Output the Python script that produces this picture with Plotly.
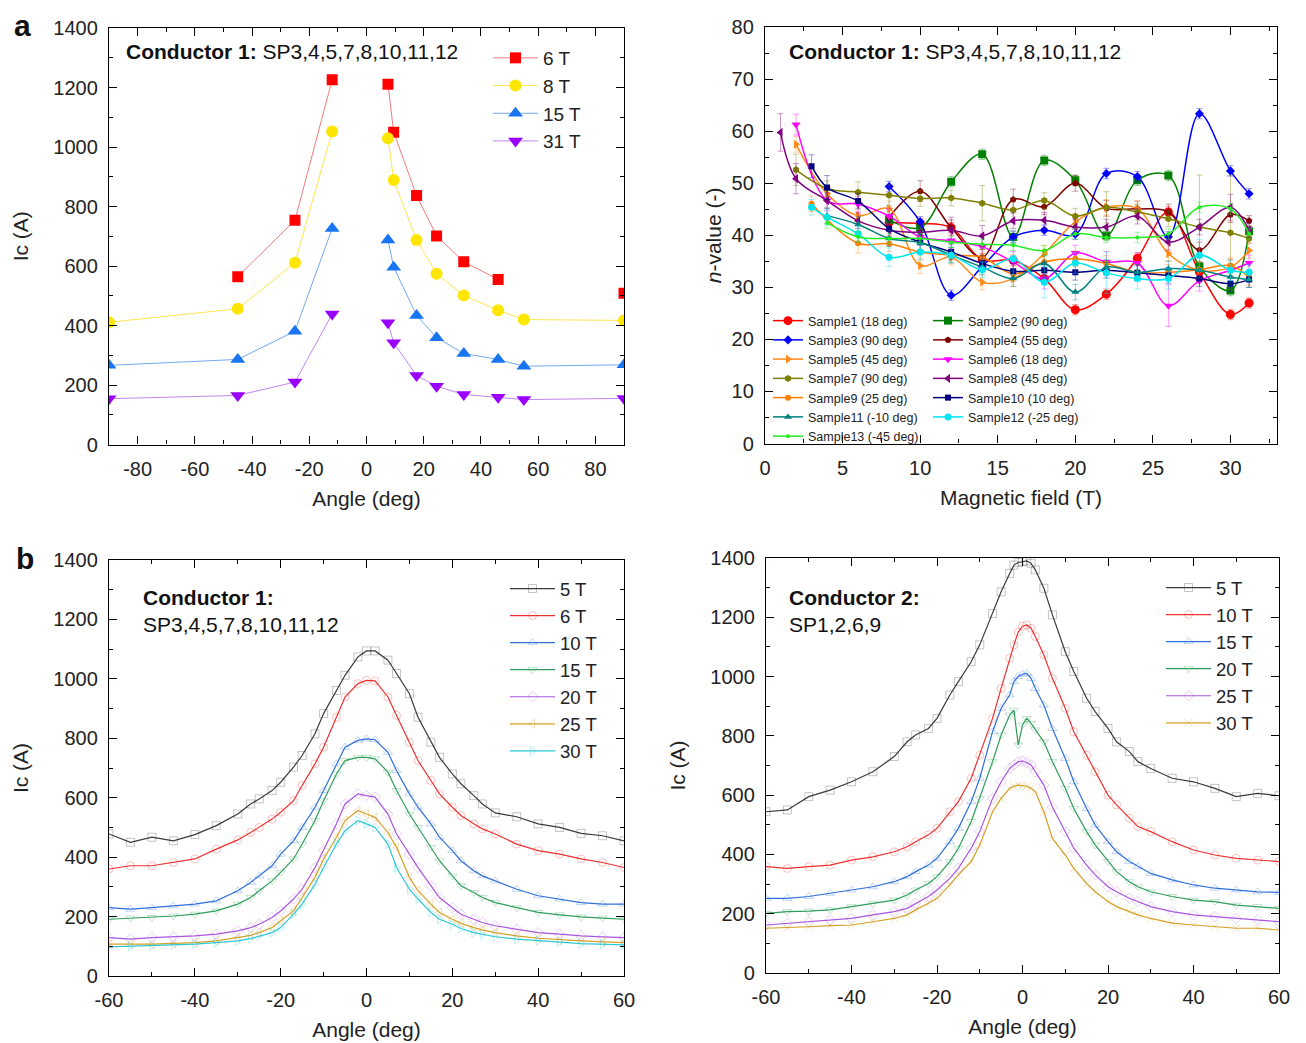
import plotly.graph_objects as go

W, H = 1306, 1043
FONT = 'Liberation Sans, Arial, sans-serif'

# ---------------- panel a, left: Ic vs angle at fixed field ----------------
ANGLE_A = [-90, -45, -25, -12, 0, 7.5, 9.5, 17.5, 24.5, 34, 46, 55, 90]
IC_6T = [None, 564, 754, 1226, None, 1211, 1050, 837, 701, 614, 555, None, 508]
IC_8T = [411, 456, 611, 1052, None, 1029, 889, 687, 574, 501, 451, 420, 417]
IC_15T = [266, 286, 381, 726, None, 687, 596, 434, 359, 306, 286, 263, 268]
IC_31T = [154, 165, 210, 439, None, 409, 342, 232, 196, 168, 159, 151, 155]
A_NAMES = ['6 T', '8 T', '15 T', '31 T']

# ---------------- panel a, right: n-value vs field ----------------
F1 = [8, 10, 12, 14, 16, 18, 20, 22, 24, 26, 28, 30, 31.2]
N1 = [42.5, 42.3, 41.5, 35.3, 35.2, 31.7, 25.7, 28.7, 35.6, 44.5, 33.0, 24.8, 27.0]
E1 = [1.2, 1.0, 1.0, 1.2, 1.0, 1.0, 1.0, 1.0, 1.0, 1.0, 1.2, 1.0, 1.0]
F2 = [8, 10, 12, 14, 16, 18, 20, 22, 24, 26, 28, 30, 31.2]
N2 = [43.0, 41.5, 50.3, 55.6, 39.7, 54.4, 50.6, 40.0, 50.6, 51.5, 34.0, 29.4, 40.8]
E2 = [1.0, 1.2, 1.0, 1.0, 1.2, 1.0, 1.0, 1.0, 1.0, 1.0, 1.0, 1.0, 1.0]
F3 = [8, 10, 12, 14, 16, 18, 20, 22, 24, 26, 28, 30, 31.2]
N3 = [49.4, 42.6, 28.5, 34.0, 39.7, 41.0, 40.2, 51.9, 51.3, 39.7, 63.4, 52.4, 48.0]
E3 = [1.0, 1.0, 1.0, 1.0, 1.0, 1.0, 1.0, 1.0, 1.0, 1.0, 1.0, 1.0, 1.0]
F4 = [8, 10, 12, 14, 16, 18, 20, 22, 24, 26, 28, 30, 31.2]
N4 = [43.5, 48.5, 41.5, 35.8, 46.9, 45.5, 50.0, 45.2, 45.1, 44.5, 37.2, 44.0, 42.8]
E4 = [1.5, 2.0, 1.5, 1.5, 2.0, 1.5, 1.5, 1.5, 1.5, 1.5, 1.5, 1.5, 1.0]
F5 = [2, 4, 6, 8, 10, 12, 14, 16, 18, 20, 22, 24, 26, 28, 30, 31.2]
N5 = [57.5, 48.0, 43.8, 45.1, 34.2, 35.8, 31.0, 31.7, 36.5, 42.6, 45.4, 45.1, 36.5, 33.3, 33.9, 37.1]
E5 = [1.5, 1.5, 1.5, 1.5, 1.5, 1.5, 1.5, 1.5, 1.5, 1.5, 1.5, 1.5, 1.5, 1.5, 1.5, 1.5]
F6 = [2, 4, 6, 8, 10, 12, 14, 16, 18, 20, 22, 24, 26, 28, 30, 31.2]
N6 = [61.3, 46.7, 46.0, 43.7, 39.7, 39.0, 37.8, 34.9, 31.7, 36.6, 34.9, 34.7, 26.5, 31.3, 33.3, 34.7]
E6 = [2.0, 2.0, 1.5, 1.5, 1.5, 1.5, 2.5, 2.0, 2.0, 1.5, 2.0, 2.0, 4.0, 2.0, 2.0, 1.5]
F7 = [2, 4, 6, 8, 10, 12, 14, 16, 18, 20, 22, 24, 26, 28, 30, 31.2]
N7 = [52.6, 49.0, 48.3, 47.7, 47.1, 47.2, 46.2, 44.9, 46.7, 43.7, 45.4, 44.5, 43.2, 41.6, 40.5, 39.4]
E7 = [3.0, 1.5, 2.0, 2.0, 1.5, 1.5, 3.4, 2.3, 1.5, 1.5, 3.0, 1.5, 1.5, 10.0, 11.0, 1.0]
F8 = [1, 2, 4, 6, 8, 10, 12, 14, 16, 18, 20, 22, 24, 26, 28, 30, 31.2]
N8 = [59.8, 50.9, 46.7, 42.8, 41.0, 40.6, 41.0, 39.9, 42.8, 42.9, 41.6, 41.6, 43.7, 38.7, 41.6, 45.4, 41.0]
E8 = [3.6, 2.9, 1.5, 1.5, 1.5, 1.5, 2.5, 2.0, 1.5, 1.5, 1.5, 1.5, 1.5, 1.5, 1.5, 2.5, 1.5]
F9 = [3, 6, 8, 10, 12, 14, 16, 18, 20, 22, 24, 26, 28, 30, 31.2]
N9 = [46.1, 38.5, 38.4, 36.8, 36.2, 35.8, 32.6, 34.9, 35.5, 34.6, 32.9, 32.9, 33.4, 34.2, 31.9]
E9 = [1.5, 1.9, 1.5, 1.5, 1.5, 1.5, 1.5, 1.5, 1.5, 1.5, 1.5, 1.5, 1.5, 1.5, 1.5]
F10 = [3, 4, 6, 8, 10, 12, 14, 16, 18, 20, 22, 24, 26, 28, 30, 31.2]
N10 = [53.3, 49.2, 46.6, 41.3, 38.7, 36.8, 34.6, 33.1, 33.3, 32.9, 33.3, 32.8, 32.3, 31.7, 30.7, 31.5]
E10 = [2.2, 2.3, 1.5, 1.5, 1.5, 1.5, 1.5, 1.5, 1.5, 1.5, 1.5, 1.5, 1.5, 1.5, 1.5, 1.5]
F11 = [4, 6, 8, 10, 12, 14, 16, 18, 20, 22, 24, 26, 28, 30, 31.2]
N11 = [43.8, 42.1, 39.4, 38.6, 36.2, 33.9, 31.7, 34.6, 29.1, 33.9, 32.9, 33.6, 33.3, 32.0, 31.5]
E11 = [1.5, 1.5, 1.5, 1.5, 1.5, 1.5, 1.5, 1.5, 1.5, 1.5, 1.5, 1.5, 1.5, 1.5, 1.5]
F12 = [3, 4, 6, 8, 10, 12, 14, 16, 18, 20, 22, 24, 26, 28, 30, 31.2]
N12 = [45.4, 43.5, 40.3, 35.8, 36.8, 36.2, 33.4, 35.5, 31.0, 34.7, 32.8, 31.7, 31.7, 36.2, 33.3, 32.9]
E12 = [1.5, 1.5, 1.5, 1.8, 1.5, 1.5, 1.5, 3.0, 3.0, 2.0, 4.0, 2.0, 2.0, 3.0, 2.0, 1.5]
F13 = [4, 6, 8, 10, 12, 14, 16, 18, 20, 22, 24, 26, 28, 30, 31.2]
N13 = [42.4, 39.7, 39.4, 39.4, 38.7, 38.3, 38.1, 37.1, 40.3, 39.6, 39.6, 40.3, 45.4, 45.1, 40.3]
E13 = [1.0, 1.0, 1.0, 1.0, 1.0, 1.0, 1.0, 1.0, 1.0, 1.0, 1.0, 1.0, 1.0, 1.0, 1.0]
SAMPLE_NAMES = ['Sample1 (18 deg)', 'Sample2 (90 deg)', 'Sample3 (90 deg)', 'Sample4 (55 deg)',
                'Sample5 (45 deg)', 'Sample6 (18 deg)', 'Sample7 (90 deg)', 'Sample8 (45 deg)',
                'Sample9 (25 deg)', 'Sample10 (10 deg)', 'Sample11 (-10 deg)', 'Sample12 (-25 deg)',
                'Sample13 (-45 deg)']

# ---------------- panel b, left: Conductor 1 angular scans ----------------
ANGLE_B1 = [-60, -55, -50, -45, -40, -35, -30, -27, -25, -22, -20, -17, -15, -12, -10, -7, -5, -2, 0,
            2, 5, 7, 10, 12, 15, 17, 20, 22, 25, 27, 30, 35, 40, 45, 50, 55, 60]
C1_5T = [478, 450, 467, 455, 476, 506, 545, 579, 596, 624, 652, 703, 742, 815, 883, 961, 1012, 1074, 1094,
         1094, 1063, 1018, 950, 871, 787, 736, 680, 647, 607, 579, 549, 536, 512, 500, 480, 472, 455]
C1_6T = [360, 371, 371, 382, 394, 427, 458, 483, 500, 528, 551, 590, 641, 714, 770, 871, 939, 984, 995,
         993, 939, 877, 787, 725, 658, 613, 568, 540, 512, 495, 478, 444, 422, 410, 394, 382, 365]
C1_10T = [230, 225, 230, 236, 242, 253, 287, 315, 337, 371, 410, 455, 500, 568, 624, 714, 770, 793, 798,
          795, 753, 691, 613, 568, 512, 467, 422, 388, 354, 337, 320, 292, 270, 259, 247, 242, 242]
C1_15T = [191, 195, 197, 202, 208, 219, 242, 264, 287, 320, 349, 394, 444, 523, 590, 680, 725, 736, 736,
          731, 686, 624, 545, 500, 433, 388, 337, 304, 281, 264, 247, 230, 214, 206, 199, 195, 191]
C1_20T = [129, 124, 129, 132, 135, 141, 152, 163, 174, 197, 219, 259, 292, 365, 422, 512, 579, 613, 607,
          602, 545, 478, 410, 365, 304, 264, 230, 208, 191, 180, 169, 157, 146, 141, 135, 132, 129]
C1_25T = [107, 107, 107, 110, 112, 118, 129, 137, 146, 163, 186, 219, 264, 332, 394, 467, 523, 557, 545,
          534, 483, 433, 332, 287, 242, 214, 191, 177, 163, 155, 146, 135, 127, 122, 118, 115, 112]
C1_30T = [98, 100, 101, 104, 107, 112, 118, 126, 135, 146, 163, 208, 242, 309, 365, 444, 489, 523, 512,
          500, 444, 365, 292, 259, 214, 191, 174, 160, 146, 140, 132, 124, 118, 114, 109, 107, 105]
B1_NAMES = ['5 T', '6 T', '10 T', '15 T', '20 T', '25 T', '30 T']

# ---------------- panel b, right: Conductor 2 angular scans ----------------
ANGLE_B2 = [-60, -55, -50, -45, -40, -35, -30, -27, -25, -22, -20, -17, -15, -12, -10, -7, -5, -3, -2, -1, 0,
            1, 2, 3, 5, 7, 10, 12, 15, 17, 20, 22, 25, 27, 30, 35, 40, 45, 50, 55, 60]
C2_5T = [544, 550, 595, 617, 645, 679, 730, 780, 803, 825, 859, 938, 983, 1050, 1107, 1213, 1286, 1348, 1376,
         1385, 1388, 1390, 1382, 1360, 1298, 1208, 1084, 1017, 927, 882, 825, 780, 747, 713, 690, 657, 645,
         623, 595, 606, 598]
C2_10T = [359, 353, 359, 364, 381, 392, 409, 426, 443, 466, 488, 544, 578, 657, 735, 859, 960, 1062, 1107,
          1150, 1170, 1174, 1163, 1135, 1073, 994, 893, 814, 735, 679, 600, 567, 522, 494, 477, 443, 415,
          398, 387, 381, 376]
C2_15T = [252, 252, 258, 269, 280, 291, 308, 325, 342, 364, 387, 443, 488, 578, 657, 814, 893, 938, 983,
          1000, 1008, 1011, 994, 960, 904, 825, 724, 645, 555, 499, 443, 409, 376, 359, 336, 314, 297,
          286, 280, 274, 272]
C2_20T = [201, 207, 209, 213, 224, 235, 246, 263, 280, 302, 325, 376, 421, 511, 589, 713, 803, 870, 887,
          769, 837, 859, 842, 820, 780, 713, 623, 555, 477, 432, 376, 342, 308, 291, 274, 258, 246,
          241, 229, 224, 218]
C2_25T = [162, 168, 173, 179, 184, 196, 207, 218, 235, 258, 280, 319, 353, 421, 477, 589, 645, 690, 702,
          713, 715, 710, 702, 679, 634, 560, 477, 421, 364, 331, 291, 274, 252, 241, 224, 207, 196,
          190, 184, 179, 173]
C2_30T = [151, 153, 156, 160, 162, 173, 184, 196, 213, 235, 252, 297, 331, 376, 432, 544, 589, 623, 630,
          634, 632, 630, 623, 612, 544, 454, 398, 353, 302, 274, 241, 224, 207, 196, 184, 168, 162,
          156, 151, 151, 145]
B2_NAMES = ['5 T', '10 T', '15 T', '20 T', '25 T', '30 T']

TICKS_ANGLE_A = [-80, -60, -40, -20, 0, 20, 40, 60, 80]
TICKS_ANGLE_B = [-60, -40, -20, 0, 20, 40, 60]


def xdom(l, r):
    return [l / W, r / W]


def ydom(t, b):
    return [1 - b / H, 1 - t / H]


def minor_ticks(**kw):
    m = dict(ticks='inside', ticklen=4, tickwidth=1.3, tickcolor='black', showgrid=False)
    m.update(kw)
    return m


def axis_style(**kw):
    st = dict(showline=True, linecolor='black', linewidth=1.3, mirror='allticks',
              ticks='inside', ticklen=8, tickwidth=1.3, tickcolor='black',
              showgrid=False, zeroline=False, ticklabelstandoff=6, automargin=False,
              tickfont=dict(size=20, color='#222', family=FONT))
    st.update(kw)
    return st


fig = go.Figure()

# panel a left
a_cols = ['#FF0000', '#FFE600', '#1874F0', '#9900FF']
a_lines = ['rgba(240,90,90,0.8)', 'rgba(255,225,60,0.9)', 'rgba(100,160,240,0.9)', 'rgba(190,120,240,0.9)']
a_syms = ['square', 'circle', 'triangle-up', 'triangle-down']
a_sizes = [11, 12, 13, 13]
for name, ys, c, lc, s, sz in zip(A_NAMES, [IC_6T, IC_8T, IC_15T, IC_31T], a_cols, a_lines, a_syms, a_sizes):
    fig.add_trace(go.Scatter(x=ANGLE_A, y=ys, name=name, mode='lines+markers',
                             line=dict(color=lc, width=1), marker=dict(color=c, symbol=s, size=sz),
                             xaxis='x', yaxis='y', legend='legend'))

# panel a right
s_fields = [F1, F2, F3, F4, F5, F6, F7, F8, F9, F10, F11, F12, F13]
s_vals = [N1, N2, N3, N4, N5, N6, N7, N8, N9, N10, N11, N12, N13]
s_errs = [E1, E2, E3, E4, E5, E6, E7, E8, E9, E10, E11, E12, E13]
s_cols = ['#FF0000', '#008000', '#0000FF', '#800000', '#FF8C1A', '#FF00FF', '#808000', '#800080',
          '#FF7F00', '#000080', '#008080', '#00E5F0', '#22EE22']
s_syms = ['circle', 'square', 'diamond', 'pentagon', 'triangle-right', 'triangle-down', 'hexagon',
          'triangle-left', 'circle', 'square', 'triangle-up', 'circle', 'circle']
s_sizes = [9, 8, 7, 7, 8, 8, 7, 8, 6, 6, 7, 7, 4]


def rgba(hexc, a):
    h = hexc.lstrip('#')
    return 'rgba(%d,%d,%d,%.2f)' % (int(h[0:2], 16), int(h[2:4], 16), int(h[4:6], 16), a)


for i in range(13):
    leg = 'legend2' if i % 2 == 0 else 'legend3'
    fig.add_trace(go.Scatter(x=s_fields[i], y=s_vals[i], name=SAMPLE_NAMES[i], mode='lines+markers',
                             line=dict(color=s_cols[i], width=1.5, shape='spline', smoothing=1.0),
                             marker=dict(color=s_cols[i], symbol=s_syms[i], size=s_sizes[i]),
                             error_y=dict(type='data', array=s_errs[i], color=rgba(s_cols[i], 0.4),
                                          thickness=1, width=3),
                             xaxis='x2', yaxis='y2', legend=leg))

# panel b left
b1_cols = ['#3A3A3A', '#EE3030', '#2F6FDC', '#2E9E5B', '#A955E0', '#D6A025', '#2CC8D6']
b1_syms = ['square-open', 'circle-open', 'triangle-up-open', 'triangle-down-open', 'diamond-open',
           'triangle-left-open', 'triangle-right-open']
for name, ys, c, s in zip(B1_NAMES, [C1_5T, C1_6T, C1_10T, C1_15T, C1_20T, C1_25T, C1_30T], b1_cols, b1_syms):
    fig.add_trace(go.Scatter(x=ANGLE_B1, y=ys, name=name, mode='lines+markers',
                             line=dict(color=c, width=1.2),
                             marker=dict(color=c, symbol=s, size=8, opacity=0.3, line=dict(width=1, color=c)),
                             xaxis='x3', yaxis='y3', legend='legend4'))

# panel b right
b2_cols = ['#3A3A3A', '#EE3030', '#2F6FDC', '#2E9E5B', '#A955E0', '#D6A025']
b2_syms = ['square-open', 'circle-open', 'triangle-up-open', 'triangle-down-open', 'diamond-open',
           'x-thin-open']
for name, ys, c, s in zip(B2_NAMES, [C2_5T, C2_10T, C2_15T, C2_20T, C2_25T, C2_30T], b2_cols, b2_syms):
    fig.add_trace(go.Scatter(x=ANGLE_B2, y=ys, name=name, mode='lines+markers',
                             line=dict(color=c, width=1.2),
                             marker=dict(color=c, symbol=s, size=8, opacity=0.3, line=dict(width=1, color=c)),
                             xaxis='x4', yaxis='y4', legend='legend5'))

ttl = dict(size=21, color='#222', family=FONT)
angle_ticks_a = dict(tickmode='array', tickvals=TICKS_ANGLE_A, ticktext=[str(v) for v in TICKS_ANGLE_A])
angle_ticks_b = dict(tickmode='array', tickvals=TICKS_ANGLE_B, ticktext=[str(v) for v in TICKS_ANGLE_B])

leg_common = dict(bgcolor='rgba(0,0,0,0)', borderwidth=0, xanchor='left', yanchor='top',
                  tracegroupgap=0)

fig.update_layout(
    width=W, height=H, autosize=False,
    margin=dict(l=0, r=0, t=0, b=0),
    paper_bgcolor='white', plot_bgcolor='white',
    font=dict(family=FONT, color='#222'),
    xaxis=axis_style(domain=xdom(109, 624), anchor='y', range=[-90, 90],
                     minor=minor_ticks(tickmode='linear', tick0=0, dtick=10),
                     title=dict(text='Angle (deg)', font=ttl, standoff=12), **angle_ticks_a),
    yaxis=axis_style(domain=ydom(28, 444.5), anchor='x', range=[0, 1400], dtick=200,
                     minor=minor_ticks(dtick=100),
                     title=dict(text='Ic (A)', font=ttl, standoff=18)),
    xaxis2=axis_style(domain=xdom(765, 1277), anchor='y2', range=[0, 33], dtick=5,
                      minor=minor_ticks(dtick=2.5),
                      title=dict(text='Magnetic field (T)', font=ttl, standoff=12)),
    yaxis2=axis_style(domain=ydom(27.3, 443.5), anchor='x2', range=[0, 80], dtick=10,
                      minor=minor_ticks(dtick=5),
                      title=dict(text='<i>n</i>-value (-)', font=ttl, standoff=4)),
    xaxis3=axis_style(domain=xdom(109, 624), anchor='y3', range=[-60, 60],
                      minor=minor_ticks(tickmode='linear', tick0=0, dtick=10),
                      title=dict(text='Angle (deg)', font=ttl, standoff=12), **angle_ticks_b),
    yaxis3=axis_style(domain=ydom(560, 976), anchor='x3', range=[0, 1400], dtick=200,
                      minor=minor_ticks(dtick=100),
                      title=dict(text='Ic (A)', font=ttl, standoff=18)),
    xaxis4=axis_style(domain=xdom(766, 1279), anchor='y4', range=[-60, 60],
                      minor=minor_ticks(tickmode='linear', tick0=0, dtick=10),
                      title=dict(text='Angle (deg)', font=ttl, standoff=12), **angle_ticks_b),
    yaxis4=axis_style(domain=ydom(558, 973), anchor='x4', range=[0, 1400], dtick=200,
                      minor=minor_ticks(dtick=100),
                      title=dict(text='Ic (A)', font=ttl, standoff=18)),
    legend=dict(x=488 / W, y=1 - 39 / H, font=dict(size=19, family=FONT, color='#222'),
                itemwidth=45, **leg_common),
    legend2=dict(x=768 / W, y=1 - 306 / H, font=dict(size=12.5, family=FONT, color='#222'),
                 itemwidth=30, **leg_common),
    legend3=dict(x=928 / W, y=1 - 306 / H, font=dict(size=12.5, family=FONT, color='#222'),
                 itemwidth=30, **leg_common),
    legend4=dict(x=505 / W, y=1 - 570 / H, font=dict(size=18.5, family=FONT, color='#222'),
                 itemwidth=45, **leg_common),
    legend5=dict(x=1161 / W, y=1 - 569 / H, font=dict(size=18.5, family=FONT, color='#222'),
                 itemwidth=45, **leg_common),
)

ann_font = dict(size=21, color='#111', family=FONT)
annotations = [
    dict(text='<b>a</b>', x=12 / W, y=1 - 25 / H, font=dict(size=30, color='#111', family=FONT)),
    dict(text='<b>b</b>', x=14 / W, y=1 - 558 / H, font=dict(size=30, color='#111', family=FONT)),
    dict(text='<b>Conductor 1:</b> SP3,4,5,7,8,10,11,12', x=124 / W, y=1 - 52 / H, font=ann_font),
    dict(text='<b>Conductor 1:</b> SP3,4,5,7,8,10,11,12', x=787 / W, y=1 - 52 / H, font=ann_font),
    dict(text='<b>Conductor 1:</b>', x=141 / W, y=1 - 597 / H, font=ann_font),
    dict(text='SP3,4,5,7,8,10,11,12', x=141 / W, y=1 - 624 / H, font=ann_font),
    dict(text='<b>Conductor 2:</b>', x=787 / W, y=1 - 597 / H, font=ann_font),
    dict(text='SP1,2,6,9', x=787 / W, y=1 - 624 / H, font=ann_font),
]
for a in annotations:
    fig.add_annotation(xref='paper', yref='paper', xanchor='left', yanchor='middle',
                       showarrow=False, **a)

# the page body has a default 8px margin; drop it so the figure sits at the window origin
fig.write_html('out.html', config={'displayModeBar': False},
               post_script="document.body.style.margin='0';")
